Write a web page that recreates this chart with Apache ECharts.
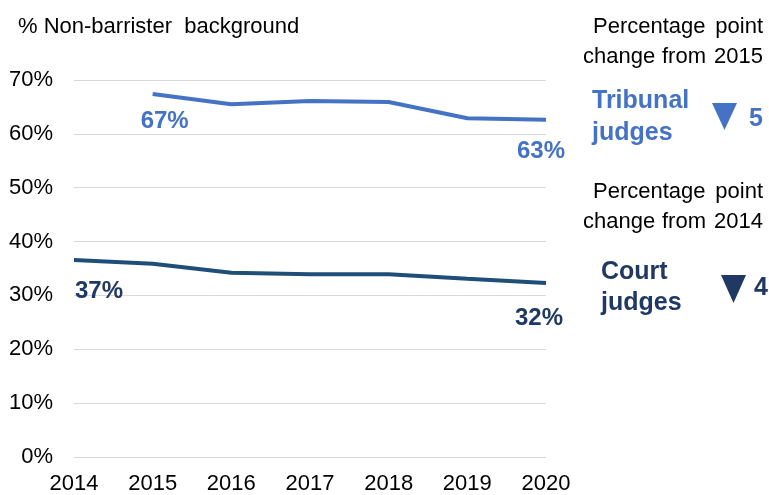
<!DOCTYPE html>
<html>
<head>
<meta charset="utf-8">
<script src="https://cdn.jsdelivr.net/npm/echarts@6/dist/echarts.min.js"></script>
<style>
  html, body { margin: 0; padding: 0; background: #fff; }
  #main { width: 769px; height: 495px; }
</style>
</head>
<body>
<div id="main"></div>
<script>
  // data
  var years = ['2014', '2015', '2016', '2017', '2018', '2019', '2020'];
  var tribunal = [null, 67.4, 65.5, 66.1, 65.9, 62.9, 62.6];
  var court = [36.6, 35.9, 34.2, 33.95, 33.95, 33.1, 32.3];
  var yTicks = [0, 10, 20, 30, 40, 50, 60, 70];

  var FONT = '"Liberation Sans", Arial, sans-serif';
  var BLUE = '#4472C4';
  var NAVY = '#1F4E79';
  var NAVY_TXT = '#203864';
  var REG = '22px ' + FONT;
  var BOLD = 'bold 25px ' + FONT;

  // label the first and last point of each line
  function withLabels(arr, color, offs) {
    return arr.map(function (v, i) {
      if (v === null) return null;
      if (!offs[i]) return v;
      return {
        value: v,
        label: {
          show: true,
          position: 'inside',
          offset: offs[i],
          color: color,
          fontFamily: FONT,
          fontWeight: 'bold',
          fontSize: 24,
          formatter: function (p) { return Math.round(p.value) + '%'; }
        }
      };
    });
  }

  function txt(x, y, s, font, fill, align) {
    return { type: 'text', x: x, y: y, style: { text: s, fill: fill, font: font, align: align || 'left', verticalAlign: 'middle' } };
  }

  var myChart = echarts.init(document.getElementById('main'));

  var option = {
    animation: false,
    grid: { left: 74, right: 223, top: 80, bottom: 37 },
    xAxis: {
      type: 'category',
      data: years,
      boundaryGap: false,
      axisLine: { show: false },
      axisTick: { show: false },
      axisLabel: { color: '#000', fontSize: 22, fontFamily: FONT, margin: 16 }
    },
    yAxis: {
      type: 'value',
      min: yTicks[0],
      max: yTicks[yTicks.length - 1],
      interval: 10,
      axisLine: { show: false },
      axisTick: { show: false },
      splitLine: { lineStyle: { color: '#d9d9d9', width: 1 } },
      axisLabel: {
        color: '#000', fontSize: 22, fontFamily: FONT, margin: 21,
        formatter: '{value}%'
      }
    },
    series: [{
      name: 'Tribunal judges',
      type: 'line',
      data: withLabels(tribunal, BLUE, { 1: [12, 27], 6: [-5, 32] }),
      symbol: 'circle',
      symbolSize: 0.1,
      showSymbol: true,
      itemStyle: { color: BLUE },
      lineStyle: { color: BLUE, width: 4 }
    }, {
      name: 'Court judges',
      type: 'line',
      data: withLabels(court, NAVY_TXT, { 0: [25, 31], 6: [-7, 35] }),
      symbol: 'circle',
      symbolSize: 0.1,
      showSymbol: true,
      itemStyle: { color: NAVY },
      lineStyle: { color: NAVY, width: 4 }
    }],
    graphic: [
      txt(18, 27, '% Non-barrister  background', REG, '#000'),

      txt(593, 27, 'Percentage', REG, '#000'),
      txt(763, 27, 'point', REG, '#000', 'right'),
      txt(583, 57, 'change', REG, '#000'),
      txt(684, 57, 'from', REG, '#000', 'center'),
      txt(763, 57, '2015', REG, '#000', 'right'),

      txt(592, 101, 'Tribunal', BOLD, BLUE),
      txt(592, 133, 'judges', BOLD, BLUE),
      { type: 'polygon', shape: { points: [[712, 103], [737, 103], [724.5, 130]] }, style: { fill: BLUE } },
      txt(756, 119, '5', BOLD, BLUE, 'center'),

      txt(593, 192, 'Percentage', REG, '#000'),
      txt(763, 192, 'point', REG, '#000', 'right'),
      txt(583, 222, 'change', REG, '#000'),
      txt(684, 222, 'from', REG, '#000', 'center'),
      txt(763, 222, '2014', REG, '#000', 'right'),

      txt(601, 272, 'Court', BOLD, NAVY_TXT),
      txt(601, 303, 'judges', BOLD, NAVY_TXT),
      { type: 'polygon', shape: { points: [[721, 275], [746, 275], [733.5, 303]] }, style: { fill: NAVY_TXT } },
      txt(761, 288, '4', BOLD, NAVY_TXT, 'center')
    ]
  };

  myChart.setOption(option);
</script>
</body>
</html>
